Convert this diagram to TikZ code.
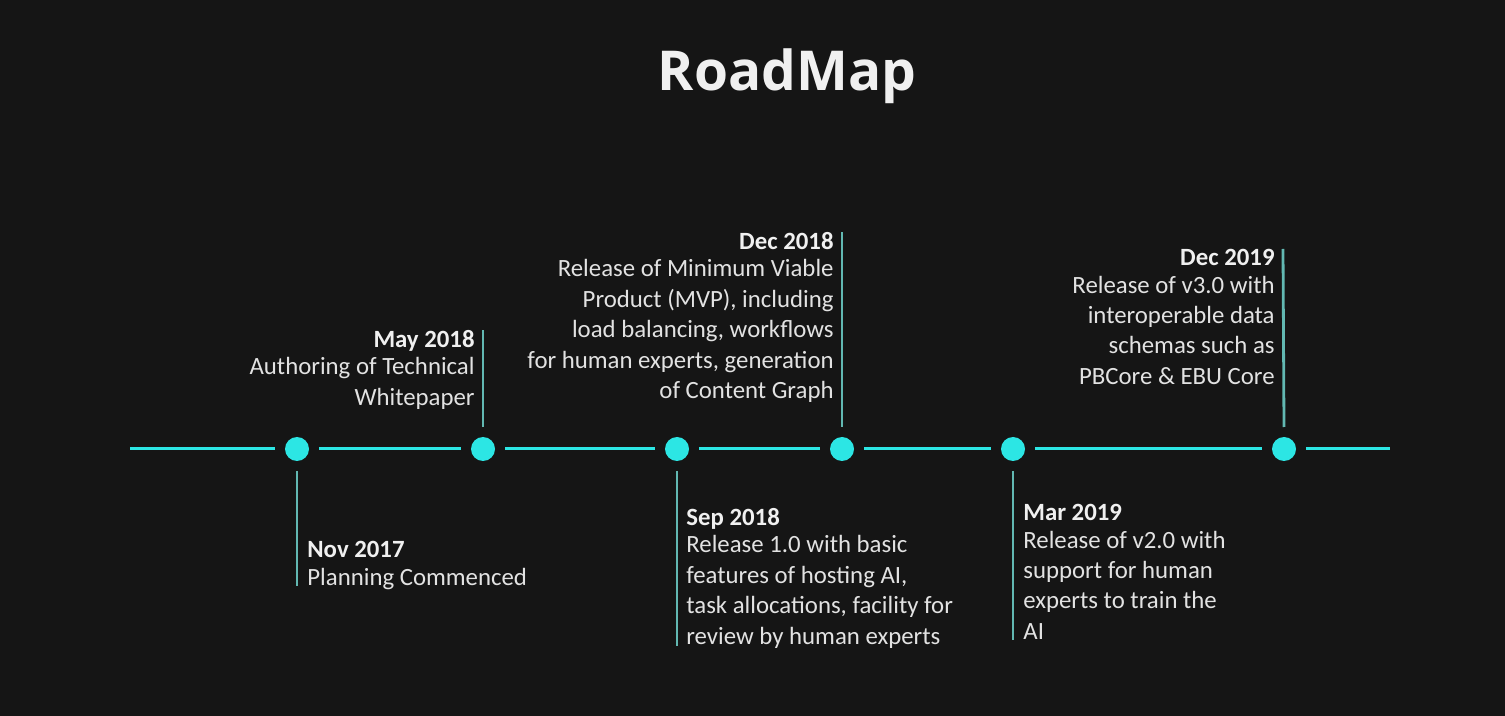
\documentclass[tikz,border=0pt]{standalone}
\usepackage{fontspec}
\setmainfont{Carlito}
\newfontfamily\titlefont{Open Sans}
\usetikzlibrary{positioning}
\definecolor{bgdark}{HTML}{151515}
\definecolor{cyanline}{HTML}{2CE6E4}
\definecolor{tickteal}{HTML}{62B8B2}
\definecolor{lighttext}{HTML}{E2E2E2}
\tikzset{
  dot/.style={circle, fill=cyanline, minimum size=12pt, inner sep=0pt, outer sep=5pt},
  axis/.style={cyanline, line width=1.5pt},
  tick/.style={tickteal, line width=1.4pt},
  event/.style={inner sep=0pt, text=lighttext, font=\fontsize{12.4}{15.2}\selectfont},
}
\newcommand{\when}[1]{{\bfseries\color{white!94!black}#1}\\[-1.5pt]}

\begin{document}
\begin{tikzpicture}[x=0.5pt,y=-0.5pt]
		\fill[bgdark] (0,0) rectangle (1505,716);
		\useasboundingbox (0,0) rectangle (1505,716);
		%%%%%%%%%%%%%
		\node[text=white!94!black, font=\titlefont\bfseries\fontsize{27.5}{30}\selectfont] (title) at (787, 76) {RoadMap};
		%%%%%%%%%%%%%
		\coordinate (start) at (130, 449);
		\coordinate (stop) at (1390, 449);
		\node[dot] (nov17) at (297, 449) {};
		\node[dot] (may18) at (483, 449) {};
		\node[dot] (sep18) at (677, 449) {};
		\node[dot] (dec18) at (842, 449) {};
		\node[dot] (mar19) at (1013, 449) {};
		\node[dot] (dec19) at (1284, 449) {};
		\draw[axis] (start) -- (nov17);
		\draw[axis] (nov17) -- (may18);
		\draw[axis] (may18) -- (sep18);
		\draw[axis] (sep18) -- (dec18);
		\draw[axis] (dec18) -- (mar19);
		\draw[axis] (mar19) -- (dec19);
		\draw[axis] (dec19) -- (stop);
		%%%%%%%%%%%%%
		\node[event, anchor=north west, align=left] (t-nov17) at (307, 541)
			{\when{Nov 2017}Planning Commenced};
		\node[event, anchor=north east, align=right] (t-may18) at (475, 330)
			{\when{May 2018}Authoring of Technical\\Whitepaper};
		\node[event, anchor=north west, align=left] (t-sep18) at (686, 508)
			{\when{Sep 2018}Release 1.0 with basic\\features of hosting AI,\\task allocations, facility for\\review by human experts};
		\node[event, anchor=north east, align=right] (t-dec18) at (834, 232)
			{\when{Dec 2018}Release of Minimum Viable\\Product (MVP), including\\load balancing, workflows\\for human experts, generation\\of Content Graph};
		\node[event, anchor=north west, align=left] (t-mar19) at (1023, 504)
			{\when{Mar 2019}Release of v2.0 with\\support for human\\experts to train the\\AI};
		\node[event, anchor=north east, align=right] (t-dec19) at (1275, 249)
			{\when{Dec 2019}Release of v3.0 with\\interoperable data\\schemas such as\\PBCore \& EBU Core};
		%%%%%%%%%%%%%
		\coordinate (k-nov17) at (297, 586);
		\coordinate (k-may18) at (483, 330);
		\coordinate (k-sep18) at (677, 646);
		\coordinate (k-dec18) at (842, 232);
		\coordinate (k-mar19) at (1013, 640);
		\coordinate (k-dec19) at (1283, 249);
		\draw[tick] (nov17.south) -- (k-nov17);
		\draw[tick] (may18.north) -- (k-may18);
		\draw[tick] (sep18.south) -- (k-sep18);
		\draw[tick] (dec18.north) -- (k-dec18);
		\draw[tick] (mar19.south) -- (k-mar19);
		\draw[tick] (dec19.north) -- (k-dec19);
	\end{tikzpicture}
\end{document}
